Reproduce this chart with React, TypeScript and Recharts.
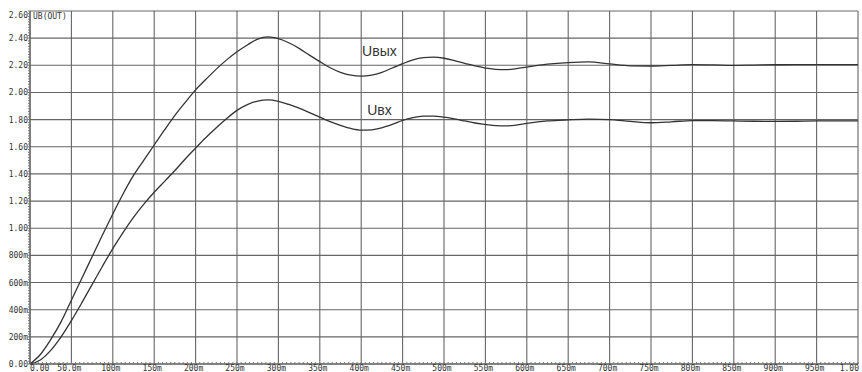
import React from 'react';
import { LineChart, Line, XAxis, YAxis, CartesianGrid, ReferenceDot } from 'recharts';

// time in ms, voltages in V
const timeMs = [
  0, 12.5, 25, 37.5, 50, 62.5, 75, 87.5, 100, 112.5, 125, 137.5, 150, 162.5, 175, 187.5, 200,
  212.5, 225, 237.5, 250, 262.5, 275, 287.5, 300, 312.5, 325, 337.5, 350, 362.5, 375, 387.5, 400,
  412.5, 425, 437.5, 450, 462.5, 475, 487.5, 500, 512.5, 525, 537.5, 550, 562.5, 575, 587.5, 600,
  625, 650, 675, 700, 725, 750, 775, 800, 825, 850, 875, 900, 925, 950, 975, 1000,
];
const uOut = [
  0, 0.07, 0.18, 0.31, 0.47, 0.63, 0.79, 0.95, 1.105, 1.254, 1.389, 1.502, 1.613, 1.724, 1.831, 1.927, 2.019,
  2.097, 2.172, 2.24, 2.3, 2.35, 2.393, 2.41, 2.396, 2.366, 2.325, 2.275, 2.227, 2.182, 2.148, 2.127, 2.12,
  2.127, 2.148, 2.18, 2.212, 2.24, 2.256, 2.26, 2.252, 2.235, 2.215, 2.195, 2.18, 2.17, 2.168, 2.175, 2.187,
  2.208, 2.22, 2.225, 2.21, 2.196, 2.195, 2.2, 2.205, 2.203, 2.2, 2.202, 2.204, 2.205, 2.205, 2.205, 2.205,
];
const uIn = [
  0, 0.03, 0.1, 0.2, 0.32, 0.45, 0.585, 0.72, 0.85, 0.97, 1.08, 1.178, 1.265, 1.345, 1.425, 1.51, 1.59,
  1.668, 1.74, 1.808, 1.868, 1.91, 1.937, 1.945, 1.935, 1.912, 1.885, 1.852, 1.818, 1.785, 1.758, 1.735, 1.723,
  1.725, 1.74, 1.765, 1.795, 1.815, 1.825, 1.826, 1.818, 1.805, 1.79, 1.775, 1.765, 1.756, 1.754, 1.76, 1.772,
  1.79, 1.798, 1.803, 1.8, 1.787, 1.777, 1.784, 1.793, 1.792, 1.79, 1.788, 1.787, 1.788, 1.79, 1.79, 1.79,
];

const xTicks = [0, 50, 100, 150, 200, 250, 300, 350, 400, 450, 500, 550, 600, 650, 700, 750, 800, 850, 900, 950, 1000];
const xLabels = ['0.00', '50.0m', '100m', '150m', '200m', '250m', '300m', '350m', '400m', '450m', '500m', '550m', '600m', '650m', '700m', '750m', '800m', '850m', '900m', '950m', '1.00'];
const yTicks = [0, 0.2, 0.4, 0.6, 0.8, 1.0, 1.2, 1.4, 1.6, 1.8, 2.0, 2.2, 2.4, 2.6];
const yLabels = ['0.00', '200m', '400m', '600m', '800m', '1.00', '1.20', '1.40', '1.60', '1.80', '2.00', '2.20', '2.40', '2.60'];

// small scope-style minor ticks along the axes (labels only on the major ones)
const xMinorTicks = Array.from({ length: 201 }, (_, i) => i * 5);
const yMinorTicks = Array.from({ length: 131 }, (_, i) => Math.round(i * 2) / 100);

const chartData = timeMs.map((t, i) => ({ t, out: uOut[i], inp: uIn[i] }));

const mono = '"DejaVu Sans Mono", monospace';
const sans = '"Liberation Sans", Arial, sans-serif';

const XTick = (props: any) => {
  const { x, y, payload } = props;
  const idx = xTicks.indexOf(payload.value);
  if (idx < 0) return <g />;
  const last = idx === xTicks.length - 1;
  const anchor = idx === 0 ? 'start' : last ? 'end' : 'middle';
  const dx = idx === 0 ? 0 : last ? 1 : -2;
  return (
    <text x={x + dx} y={y} dy={9} textAnchor={anchor} fontFamily={mono} fontSize={8} fill="#333">
      {xLabels[idx]}
    </text>
  );
};

const YTick = (props: any) => {
  const { x, y, payload } = props;
  const idx = yTicks.indexOf(payload.value);
  if (idx < 0) return <g />;
  const top = idx === yTicks.length - 1;
  return (
    <text x={x} y={y + (top ? 4 : 0)} dy={3} textAnchor="end" fontFamily={mono} fontSize={8} fill="#333">
      {yLabels[idx]}
    </text>
  );
};

export default function App() {
  return (
    <div style={{ position: 'absolute', left: 0, top: 0, width: 862, height: 372, background: '#fff' }}>
      <LineChart width={862} height={372} data={chartData} margin={{ top: 11, right: 4, left: 0, bottom: 0 }}>
        <XAxis
          dataKey="t"
          type="number"
          domain={[0, 1000]}
          ticks={xMinorTicks}
          interval={0}
          height={8}
          tickSize={-2}
          tickMargin={0}
          tickLine={{ stroke: '#777' }}
          axisLine={{ stroke: '#555' }}
          tick={<XTick />}
        />
        <YAxis
          type="number"
          domain={[0, 2.6]}
          ticks={yMinorTicks}
          interval={0}
          width={30}
          tickSize={2}
          tickMargin={0}
          tickLine={{ stroke: '#777' }}
          axisLine={{ stroke: '#555' }}
          tick={<YTick />}
        />
        <CartesianGrid horizontalValues={yTicks} verticalValues={xTicks} stroke="#666" strokeWidth={1.1} />
        <Line
          type="monotone"
          dataKey="out"
          stroke="#333"
          strokeWidth={1.3}
          dot={false}
          isAnimationActive={false}
        />
        <Line
          type="monotone"
          dataKey="inp"
          stroke="#333"
          strokeWidth={1.3}
          dot={false}
          isAnimationActive={false}
        />
        <ReferenceDot
          x={422}
          y={2.306}
          r={0}
          stroke="none"
          label={{ value: 'Uвых', position: 'center', fill: '#333', fontSize: 14, fontFamily: sans }}
        />
        <ReferenceDot
          x={422}
          y={1.871}
          r={0}
          stroke="none"
          label={{ value: 'Uвх', position: 'center', fill: '#333', fontSize: 14, fontFamily: sans }}
        />
      </LineChart>
      <div
        style={{
          position: 'absolute',
          left: 33,
          top: 12,
          fontFamily: mono,
          fontSize: 8,
          color: '#333',
          lineHeight: '9px',
        }}
      >
        UB(OUT)
      </div>
    </div>
  );
}
